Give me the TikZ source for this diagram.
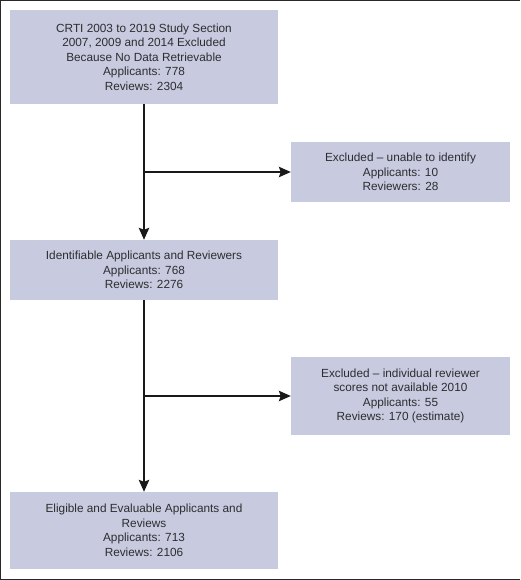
\documentclass[tikz,border=0pt]{standalone}
\usepackage{fontspec}
\setmainfont{Liberation Sans}
\usetikzlibrary{arrows.meta}
\definecolor{boxfill}{RGB}{200,202,223}
\definecolor{txt}{RGB}{45,45,48}
\definecolor{framecol}{RGB}{40,40,40}
\tikzset{
  flowbox/.style={rectangle, fill=boxfill, draw=none, align=center, text=txt,
    font=\fontsize{11.8}{14.5}\selectfont, inner sep=0pt},
  flowarrow/.style={draw=black!90, line width=1.6pt, -{Stealth[length=12pt,width=10.5pt,inset=2pt]}}
}
\begin{document}
\begin{tikzpicture}[x=1pt,y=-1pt]
\useasboundingbox (0,0) rectangle (520,580);
\fill[white] (0,0) rectangle (520,580);
\draw[framecol, line width=1.3pt] (520,0.6) -- (0.6,0.6) -- (0.6,579.2) -- (520,579.2);
\node[flowbox, minimum width=268pt, minimum height=94pt] (b1) at (144,57)
  {CRTI 2003 to 2019 Study Section\\2007, 2009 and 2014 Excluded\\Because No Data Retrievable\\Applicants: 778\\Reviews: 2304};
\node[flowbox, minimum width=219pt, minimum height=60pt] (b2) at (400.5,172)
  {Excluded -- unable to identify\\Applicants: 10\\Reviewers: 28};
\node[flowbox, minimum width=268pt, minimum height=60pt] (b3) at (144,270)
  {Identifiable Applicants and Reviewers\\Applicants: 768\\Reviews: 2276};
\node[flowbox, minimum width=219pt, minimum height=78pt] (b4) at (400.5,396)
  {Excluded -- individual reviewer\\scores not available 2010\\Applicants: 55\\Reviews: 170 (estimate)};
\node[flowbox, minimum width=268pt, minimum height=77pt] (b5) at (144,530.5)
  {Eligible and Evaluable Applicants and\\Reviews\\Applicants: 713\\Reviews: 2106};
\draw[flowarrow] (b1.south) -- (b3.north);
\draw[flowarrow] (b1.south |- b2.west) -- (b2.west);
\draw[flowarrow] (b3.south) -- (b5.north);
\draw[flowarrow] (b3.south |- b4.west) -- (b4.west);
\end{tikzpicture}
\end{document}
